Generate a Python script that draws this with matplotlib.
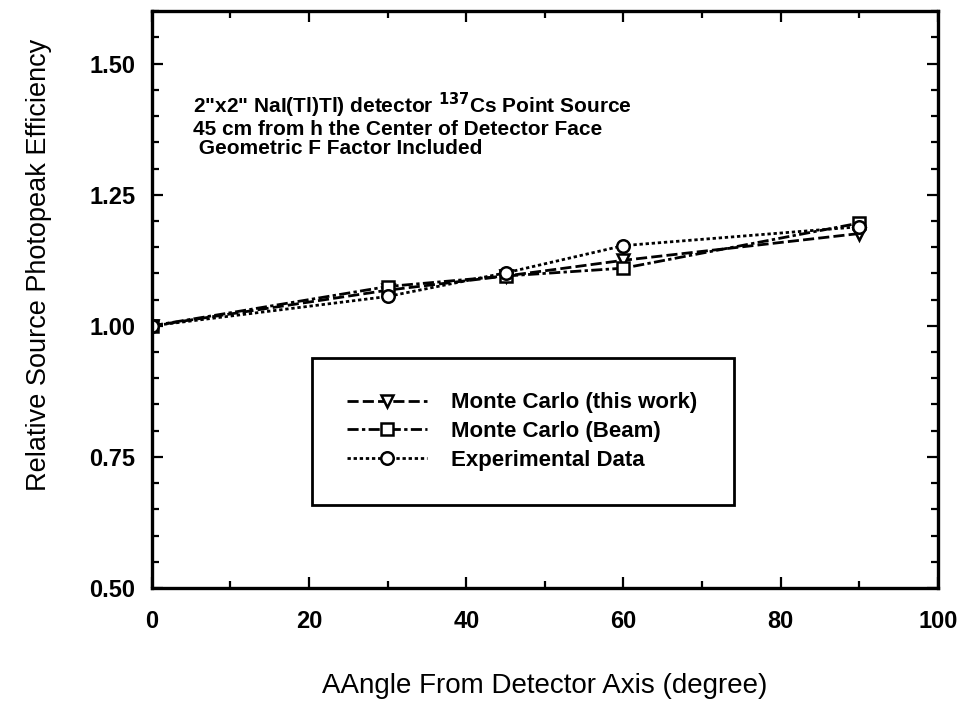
import matplotlib.pyplot as plt
from matplotlib.ticker import MultipleLocator

plt.rcParams['font.family'] = ['Liberation Sans', 'DejaVu Sans']

# angle from detector axis (degree)
angles = [0, 30, 45, 60, 90]
# relative source photopeak efficiency
mc_this_work = [1.000, 1.068, 1.095, 1.125, 1.176]
mc_beam = [1.000, 1.075, 1.095, 1.110, 1.196]
experimental = [1.000, 1.056, 1.101, 1.153, 1.189]

series_labels = ["Monte Carlo (this work)", "Monte Carlo (Beam)", "Experimental Data"]
x_ticks = [0, 20, 40, 60, 80, 100]
y_ticks = [0.50, 0.75, 1.00, 1.25, 1.50]

note_lines = ['2"x2" NaI(Tl)Tl) detector $^{\\mathbf{137}}$Cs Point Source',
              '45 cm from h the Center of Detector Face',
              ' Geometric F Factor Included']


def make_plot():
    fig = plt.figure(figsize=(9.61, 7.02), dpi=100)
    ax = fig.add_axes([0.158, 0.1624, 0.818, 0.8216])

    common = dict(color='black', lw=2.0, ms=9, mfc='white', mec='black', mew=1.8)
    ax.plot(angles, mc_this_work, ls=(0, (4, 1.5)), marker='v',
            label=series_labels[0], **common)
    ax.plot(angles, mc_beam, ls=(0, (4, 1.2, 1.2, 1.2)), marker='s',
            label=series_labels[1], **common)
    ax.plot(angles, experimental, ls=(0, (1.2, 1.0)), marker='o',
            label=series_labels[2], **common)

    ax.set_xlim(0, 100)
    ax.set_ylim(0.5, 1.6)
    ax.set_xticks(x_ticks)
    ax.set_yticks(y_ticks)
    ax.xaxis.set_minor_locator(MultipleLocator(10))
    ax.yaxis.set_minor_locator(MultipleLocator(0.05))
    ax.set_yticklabels([f"{v:.2f}" for v in y_ticks])

    ax.tick_params(which='both', direction='in', top=True, right=True,
                   width=1.6, labelsize=17)
    ax.tick_params(which='major', length=8)
    ax.tick_params(axis='y', which='major', pad=12)
    ax.tick_params(axis='x', which='major', pad=16)
    ax.tick_params(which='minor', length=5)
    for lab in ax.get_xticklabels() + ax.get_yticklabels():
        lab.set_fontweight('bold')
    for sp in ax.spines.values():
        sp.set_linewidth(2.4)

    ax.set_xlabel("AAngle From Detector Axis (degree)", fontsize=20)
    ax.set_ylabel("Relative Source Photopeak Efficiency", fontsize=19.5)
    ax.xaxis.set_label_coords(0.5, -0.147)
    ax.yaxis.set_label_coords(-0.127, 0.56)

    # three-line note, baselines placed one by one for tight spacing
    for yy, line in zip([0.823, 0.785, 0.753], note_lines):
        ax.text(0.052, yy, line, transform=ax.transAxes, fontsize=15,
                fontweight='bold', ha='left', va='baseline')

    leg = ax.legend(loc='upper left', bbox_to_anchor=(0.204, 0.399, 0.536, 0.0),
                    mode='expand', prop={'size': 16, 'weight': 'bold'},
                    handlelength=3.6, borderpad=1.55, labelspacing=0.35,
                    handletextpad=1.1, fancybox=False, framealpha=1,
                    borderaxespad=0)
    leg.get_frame().set_edgecolor('black')
    leg.get_frame().set_linewidth(2.0)

    fig.savefig("out.png", dpi=100)
    plt.close(fig)


if __name__ == "__main__":
    make_plot()
